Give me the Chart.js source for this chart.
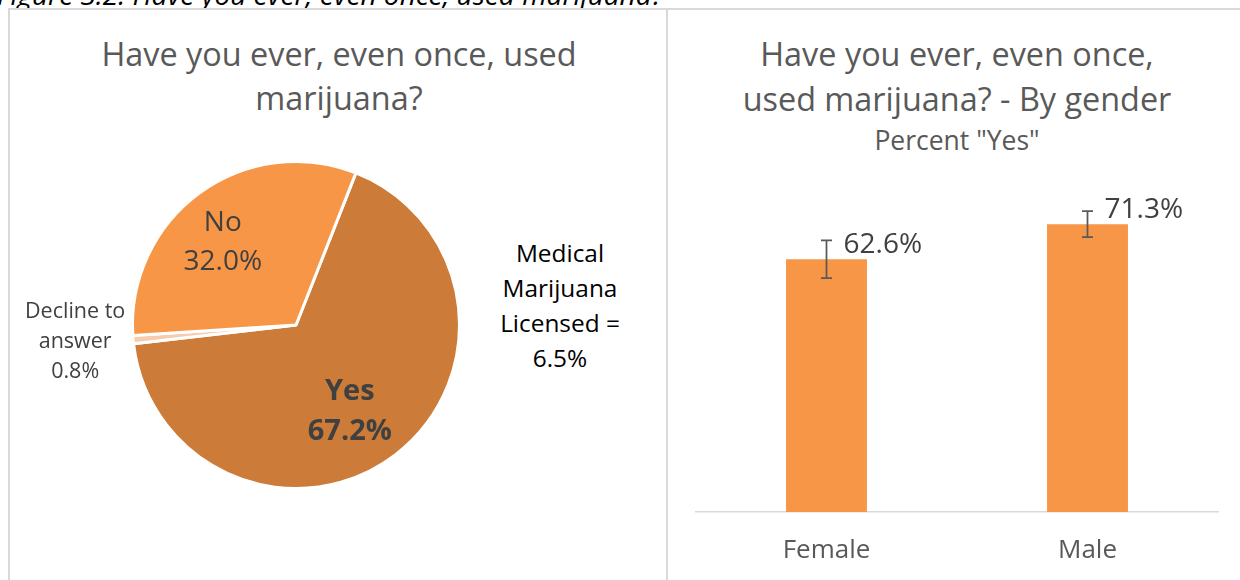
<!DOCTYPE html>
<html>
<head>
<meta charset="utf-8">
<script src="https://cdn.jsdelivr.net/npm/chart.js@4.4.1/dist/chart.umd.min.js"></script>
<style>
  html, body { margin: 0; padding: 0; background: #fff; }
  body { width: 1240px; height: 580px; position: relative; overflow: hidden; font-family: "Open Sans", "Noto Sans", sans-serif; }
  .caption { position: absolute; left: -3px; top: -21px; font-size: 28px; font-style: italic; color: #000; white-space: nowrap; line-height: 30px; }
  .panel { position: absolute; top: 8px; height: 620px; border: 2px solid #d9d9d9; box-sizing: border-box; background: #fff; }
  .title { position: absolute; color: #595959; text-align: center; white-space: nowrap; transform: translateX(-50%); }
  .note { position: absolute; color: #000; text-align: center; font-size: 24.4px; line-height: 35px; white-space: nowrap; transform: translateX(-50%); }
  canvas { position: absolute; }
</style>
</head>
<body>
<div class="caption">Figure 3.2: Have you ever, even once, used marijuana?</div>
<div class="panel" style="left:8px; width:660px;"></div>
<div class="panel" style="left:666px; width:600px;"></div>

<div class="title" style="left:339px; top:31px; font-size:32.4px; line-height:44px;">Have you ever, even once, used<br>marijuana?</div>
<div class="title" style="left:957px; top:31px; font-size:32.4px; line-height:45px;">Have you ever, even once,<br>used marijuana? - By gender</div>
<div class="title" style="left:957px; top:127px; font-size:26.5px; line-height:26px;">Percent "Yes"</div>
<div class="note" style="left:560px; top:235px;">Medical<br>Marijuana<br>Licensed =<br>6.5%</div>

<div style="position:absolute; left:10px; top:10px; width:654px; height:570px;"><canvas id="pie"></canvas></div>
<div style="position:absolute; left:668px; top:10px; width:572px; height:570px;"><canvas id="bar"></canvas></div>

<script>
// Overall answers (percent of respondents)
const answerLabels = ['Yes', 'Decline to answer', 'No'];
const answerValues = [67.2, 0.8, 32.0];
const answerColors = ['#CC7B38', '#F8CBAD', '#F79646'];

// Percent "Yes" by gender, with error margins
const genders = ['Female', 'Male'];
const yesByGender = [62.6, 71.3];
const marginByGender = [4.7, 3.2];

const fontFamily = '"Open Sans", "Noto Sans", sans-serif';

// Labels drawn on / beside the pie slices
const pieLabels = {
  id: 'pieLabels',
  afterDatasetsDraw(chart) {
    const ctx = chart.ctx;
    const arcs = chart.getDatasetMeta(0).data;
    const ds = chart.data.datasets[0].data;
    ctx.save();
    ctx.textAlign = 'center';
    ctx.textBaseline = 'middle';
    ctx.fillStyle = '#404040';
    const pct = v => v.toFixed(1) + '%';

    // Yes: bold, inside the slice
    let p = arcs[0].tooltipPosition();
    ctx.font = 'bold 29px ' + fontFamily;
    ctx.fillText(answerLabels[0], p.x + 4, p.y + 2);
    ctx.fillText(pct(ds[0]), p.x + 4, p.y + 42);

    // No: inside the slice
    p = arcs[2].tooltipPosition();
    ctx.font = '28px ' + fontFamily;
    ctx.fillText(answerLabels[2], p.x - 25, p.y - 36);
    ctx.fillText(pct(ds[2]), p.x - 25, p.y + 3);

    // Decline to answer: outside, left of the slice
    const a = arcs[1];
    const mid = (a.startAngle + a.endAngle) / 2;
    const ox = a.x + Math.cos(mid) * a.outerRadius;
    const oy = a.y + Math.sin(mid) * a.outerRadius;
    ctx.font = '21.5px ' + fontFamily;
    ctx.fillText('Decline to', ox - 58, oy - 28);
    ctx.fillText('answer', ox - 58, oy + 2);
    ctx.fillText(pct(ds[1]), ox - 58, oy + 32);
    ctx.restore();
  }
};

new Chart(document.getElementById('pie'), {
  type: 'pie',
  data: {
    labels: answerLabels,
    datasets: [{
      data: answerValues,
      backgroundColor: answerColors,
      borderColor: '#ffffff',
      borderWidth: 3
    }]
  },
  options: {
    responsive: true,
    maintainAspectRatio: false,
    animation: false,
    rotation: 21.5,
    layout: { padding: { left: 121, right: 203, top: 150, bottom: 90 } },
    plugins: { legend: { display: false }, tooltip: { enabled: false }, title: { display: false } }
  },
  plugins: [pieLabels]
});

// Error bars and value labels for the gender bars
const barExtras = {
  id: 'barExtras',
  afterDatasetsDraw(chart) {
    const ctx = chart.ctx;
    const y = chart.scales.y;
    const bars = chart.getDatasetMeta(0).data;
    ctx.save();
    bars.forEach((bar, i) => {
      const v = yesByGender[i];
      const m = marginByGender[i];
      const yTop = y.getPixelForValue(v + m);
      const yBot = y.getPixelForValue(v - m);
      ctx.strokeStyle = '#595959';
      ctx.lineWidth = 1.75;
      ctx.beginPath();
      ctx.moveTo(bar.x, yTop); ctx.lineTo(bar.x, yBot);
      ctx.moveTo(bar.x - 5.5, yTop); ctx.lineTo(bar.x + 5.5, yTop);
      ctx.moveTo(bar.x - 5.5, yBot); ctx.lineTo(bar.x + 5.5, yBot);
      ctx.stroke();

      ctx.fillStyle = '#404040';
      ctx.font = '28px ' + fontFamily;
      ctx.textAlign = 'left';
      ctx.textBaseline = 'middle';
      ctx.fillText(v.toFixed(1) + '%', bar.x + 17, y.getPixelForValue(v) - 14);
    });
    ctx.restore();
  }
};

new Chart(document.getElementById('bar'), {
  type: 'bar',
  data: {
    labels: genders,
    datasets: [{
      data: yesByGender,
      backgroundColor: '#F79646',
      borderWidth: 0,
      categoryPercentage: 1,
      barPercentage: 0.31
    }]
  },
  options: {
    responsive: true,
    maintainAspectRatio: false,
    animation: false,
    layout: { padding: { left: 28, right: 22, top: 179, bottom: 0 } },
    scales: {
      x: {
        grid: { display: false, drawTicks: false },
        border: { display: true, color: '#d9d9d9', width: 1.5 },
        ticks: { color: '#595959', font: { family: fontFamily, size: 26 }, padding: 23 },
        afterFit(scale) { scale.height = 68; }
      },
      y: { display: false, min: 0, max: 80 }
    },
    plugins: { legend: { display: false }, tooltip: { enabled: false }, title: { display: false } }
  },
  plugins: [barExtras]
});
</script>
</body>
</html>
